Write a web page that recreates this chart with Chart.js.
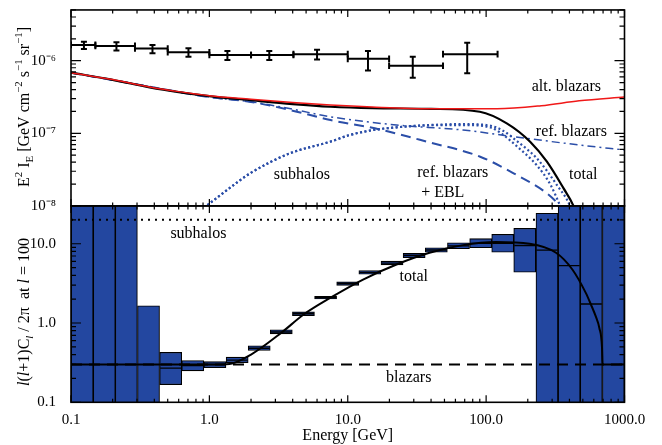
<!DOCTYPE html>
<html>
<head>
<meta charset="utf-8">
<script src="https://cdn.jsdelivr.net/npm/chart.js@4.4.1/dist/chart.umd.min.js"></script>
<style>
  html, body { margin: 0; padding: 0; background: #fff; }
  #wrap { position: relative; width: 662px; height: 445px; }
  #wrap canvas { position: absolute; left: 0; top: 0; }
</style>
</head>
<body>
<div id="wrap">
  <canvas id="bottomChart" width="662" height="445"></canvas>
  <canvas id="topChart" width="662" height="445"></canvas>
</div>
<script>
const serif = "'Liberation Serif', 'Times New Roman', serif";

// ---- top panel: measured E^2 I_E (bins in GeV)
const dataELo = [0.1, 0.15, 0.29, 0.5, 1.0, 2.0, 4.05, 10.0, 19.9, 48.8];
const dataEHi = [0.15, 0.29, 0.5, 1.0, 2.0, 4.05, 10.0, 19.9, 48.8, 121];
const dataE = [0.124, 0.213, 0.388, 0.706, 1.35, 2.71, 6.0, 14.0, 29.5, 73];
const dataFlux = [1.65e-6, 1.60e-6, 1.47e-6, 1.31e-6, 1.20e-6, 1.20e-6, 1.23e-6, 1.06e-6, 0.85e-6, 1.23e-6];
const dataFluxLo = [1.45e-6, 1.38e-6, 1.27e-6, 1.13e-6, 1.02e-6, 1.02e-6, 1.04e-6, 0.73e-6, 0.58e-6, 0.67e-6];
const dataFluxHi = [1.83e-6, 1.79e-6, 1.65e-6, 1.48e-6, 1.36e-6, 1.36e-6, 1.41e-6, 1.36e-6, 1.13e-6, 1.77e-6];

// model curves
const altE = [0.1, 0.2, 0.37, 0.6, 1, 2, 4, 7.5, 15, 40, 120, 250, 470, 1000];
const altFlux = [6.84e-7, 5.5e-7, 4.35e-7, 3.75e-7, 3.3e-7, 2.95e-7, 2.65e-7, 2.45e-7, 2.3e-7, 2.18e-7, 2.18e-7, 2.4e-7, 2.8e-7, 3.17e-7];
const totE = [0.1, 0.2, 0.37, 0.6, 1, 2, 4, 7.5, 15, 40, 90, 141, 208, 275, 363, 428, 470];
const totFlux = [6.84e-7, 5.45e-7, 4.3e-7, 3.7e-7, 3.25e-7, 2.85e-7, 2.52e-7, 2.32e-7, 2.22e-7, 2.17e-7, 1.98e-7, 1.37e-7, 7.66e-8, 4.06e-8, 1.74e-8, 1.0e-8, 6e-9];
const refE = [0.1, 0.2, 0.5, 1, 2, 4, 7.46, 22.5, 68, 158, 470, 1000];
const refFlux = [6.84e-7, 5.42e-7, 3.95e-7, 3.15e-7, 2.72e-7, 2.15e-7, 1.69e-7, 1.3e-7, 1.11e-7, 8.98e-8, 6.9e-8, 5.9e-8];
const eblE = [0.1, 0.2, 0.5, 1, 2, 4, 7.5, 15.7, 37.4, 90.6, 158, 275, 343, 400];
const eblFlux = [6.84e-7, 5.42e-7, 3.95e-7, 3.15e-7, 2.7e-7, 2.05e-7, 1.52e-7, 1.17e-7, 7.66e-8, 4.76e-8, 2.81e-8, 1.49e-8, 1.0e-8, 7e-9];
const subAE = [0.86, 1.4, 1.97, 3.83, 7.46, 10.4, 15.3, 22.6, 39.4, 68.6, 108, 133, 167, 233, 324, 404, 420];
const subAFlux = [8.6e-9, 1.76e-8, 2.81e-8, 5.31e-8, 7.66e-8, 9.5e-8, 1.11e-7, 1.21e-7, 1.30e-7, 1.34e-7, 1.27e-7, 1.08e-7, 7.8e-8, 4.5e-8, 1.95e-8, 1.0e-8, 8e-9];
const subBE = [0.86, 1.4, 1.97, 3.83, 7.46, 10.4, 15.3, 22.6, 39.4, 68.6, 108, 133, 167, 233, 292, 343, 360];
const subBFlux = [8.6e-9, 1.76e-8, 2.81e-8, 5.31e-8, 7.66e-8, 9.5e-8, 1.11e-7, 1.21e-7, 1.29e-7, 1.3e-7, 1.2e-7, 9.5e-8, 6.6e-8, 3.6e-8, 1.95e-8, 1.0e-8, 8e-9];

// ---- bottom panel: anisotropy per energy bin
const binEdges = [0.1, 0.145, 0.209, 0.302, 0.437, 0.631, 0.912, 1.32, 1.91, 2.75, 3.98, 5.75, 8.32, 12.0, 17.4, 25.1, 36.3, 52.5, 75.9, 110, 158, 229, 331, 479, 692, 1000];
const boxLo = [0.05, 0.05, 0.05, 0.05, 0.167, 0.249, 0.274, 0.317, 0.45, 0.73, 1.24, 2.01, 2.97, 4.12, 5.42, 6.65, 7.83, 8.65, 8.9, 7.83, 4.37, 0.05, 0.05, 0.05, 0.05];
const boxHi = [60, 60, 60, 1.65, 0.426, 0.336, 0.326, 0.371, 0.516, 0.82, 1.38, 2.17, 3.30, 4.59, 6.02, 7.54, 8.9, 10.3, 11.6, 13.1, 15.6, 24.2, 60, 60, 60];
const boxMid = [null, null, null, null, 0.27, 0.29, 0.30, 0.34, 0.48, 0.77, 1.31, 2.09, 3.13, 4.35, 5.7, 7.1, 8.35, 9.4, 10.1, 10.1, 9.5, 8.3, 5.3, 1.74, null];
const cTotE = [0.1, 1.0, 1.4, 2.0, 3.3, 4.8, 7.46, 12.9, 22.5, 39, 68, 118, 206, 320, 420, 525, 573, 620, 658, 688, 694, 1000];
const cTotVal = [0.3, 0.3, 0.305, 0.40, 0.75, 1.28, 2.07, 3.53, 5.47, 7.69, 9.6, 10.5, 10.0, 7.69, 4.73, 2.4, 1.70, 1.21, 0.865, 0.484, 0.30, 0.30];
const blazE = [0.1, 1000];
const blazVal = [0.3, 0.3];
const subCE = [0.1, 1000];
const subCVal = [20, 20];

// ---- axes
const xTicks = [0.1, 1, 10, 100, 1000];
const xTickLabels = ['0.1', '1.0', '10.0', '100.0', '1000.0'];
const topYTicks = [1e-8, 1e-7, 1e-6];
const topYLabels = ['10\u207B\u2078', '10\u207B\u2077', '10\u207B\u2076'];
const botYTicks = [0.1, 1, 10];
const botYLabels = ['0.1', '1.0', '10.0'];

const blue = '#2b4ea8';
const boxBlue = '#2347a0';

Chart.defaults.font.family = serif;
Chart.defaults.font.size = 15;
Chart.defaults.color = '#000';

const pts = (xs, ys) => xs.map((x, i) => ({ x, y: ys[i] }));

function logTicks(min, max) {
  const out = [];
  for (let d = Math.floor(Math.log10(min)); d <= Math.ceil(Math.log10(max)); d++) {
    for (let m = 1; m <= 9; m++) {
      const v = m * Math.pow(10, d);
      if (v >= min * 0.999 && v <= max * 1.001) out.push({ v, major: m === 1 });
    }
  }
  return out;
}

function drawRich(ctx, runs, cx, cy, size) {
  ctx.save();
  ctx.translate(cx, cy);
  ctx.rotate(-Math.PI / 2);
  const fontFor = r => (r.it ? 'italic ' : '') + ((r.sup || r.sub) ? size * 0.68 : size) + 'px ' + serif;
  const widths = runs.map(r => { ctx.font = fontFor(r); return ctx.measureText(r.t).width; });
  let x = -widths.reduce((a, b) => a + b, 0) / 2;
  ctx.textBaseline = 'alphabetic';
  ctx.textAlign = 'left';
  ctx.fillStyle = '#000';
  runs.forEach((r, i) => {
    ctx.font = fontFor(r);
    const dy = r.sup ? -size * 0.42 : r.sub ? size * 0.22 : 0;
    ctx.fillText(r.t, x, dy);
    x += widths[i];
  });
  ctx.restore();
}

function decorPlugin(notes, titleRuns, titleY) {
  return {
    id: 'decor',
    afterDatasetsDraw(chart) {
      const { ctx, chartArea: a, scales: { x, y } } = chart;
      ctx.save();
      ctx.strokeStyle = '#000';
      ctx.lineWidth = 1.6;
      ctx.strokeRect(a.left, a.top, a.right - a.left, a.bottom - a.top);
      ctx.lineWidth = 1.2;
      ctx.beginPath();
      logTicks(x.min, x.max).forEach(t => {
        const px = x.getPixelForValue(t.v);
        const len = t.major ? 7 : 3.5;
        ctx.moveTo(px, a.bottom); ctx.lineTo(px, a.bottom - len);
        ctx.moveTo(px, a.top); ctx.lineTo(px, a.top + len);
      });
      logTicks(y.min, y.max).forEach(t => {
        const py = y.getPixelForValue(t.v);
        const len = t.major ? 10 : 5;
        ctx.moveTo(a.left, py); ctx.lineTo(a.left + len, py);
        ctx.moveTo(a.right, py); ctx.lineTo(a.right - len, py);
      });
      ctx.stroke();

      ctx.font = '16px ' + serif;
      ctx.textAlign = 'center';
      ctx.textBaseline = 'middle';
      ctx.fillStyle = '#000';
      notes.forEach(n => ctx.fillText(n.text, x.getPixelForValue(n.e), y.getPixelForValue(n.v)));
      ctx.restore();
      drawRich(ctx, titleRuns, 29, titleY, 16);
    }
  };
}

// ---- top panel
const errH = [], errV = [], capH = [], capV = [];
dataE.forEach((e, i) => {
  errH.push({ x: dataELo[i], y: dataFlux[i] }, { x: dataEHi[i], y: dataFlux[i] }, { x: dataEHi[i], y: null });
  errV.push({ x: e, y: dataFluxLo[i] }, { x: e, y: dataFluxHi[i] }, { x: e, y: null });
  capH.push({ x: dataELo[i], y: dataFlux[i] }, { x: dataEHi[i], y: dataFlux[i] });
  capV.push({ x: e, y: dataFluxLo[i] }, { x: e, y: dataFluxHi[i] });
});

const topNotes = [
  { text: 'alt. blazars', e: 380, v: 4.35e-7 },
  { text: 'ref. blazars', e: 413, v: 1.04e-7 },
  { text: 'subhalos', e: 4.66, v: 2.68e-8 },
  { text: 'ref. blazars', e: 57.4, v: 2.85e-8 },
  { text: '+ EBL', e: 48.6, v: 1.51e-8 },
  { text: 'total', e: 504, v: 2.68e-8 }
];
const topTitle = [
  { t: 'E' }, { t: '2', sup: 1 }, { t: ' I' }, { t: 'E', sub: 1 }, { t: ' [GeV cm' }, { t: '\u22122', sup: 1 },
  { t: ' s' }, { t: '\u22121', sup: 1 }, { t: ' sr' }, { t: '\u22121', sup: 1 }, { t: ']' }
];

new Chart(document.getElementById('topChart'), {
  type: 'line',
  data: {
    datasets: [
      { label: 'alt. blazars', data: pts(altE, altFlux), borderColor: '#f01818', borderWidth: 1.5, cubicInterpolationMode: 'monotone', order: 0 },
      { label: 'total', data: pts(totE, totFlux), borderColor: '#000', borderWidth: 2.2, cubicInterpolationMode: 'monotone', order: 1 },
      { label: 'ref. blazars', data: pts(refE, refFlux), borderColor: blue, borderWidth: 1.5, borderDash: [8, 4, 2, 4], cubicInterpolationMode: 'monotone', order: 3 },
      { label: 'ref. blazars + EBL', data: pts(eblE, eblFlux), borderColor: blue, borderWidth: 2, borderDash: [10, 6], cubicInterpolationMode: 'monotone', order: 2 },
      { label: 'subhalos', data: pts(subAE, subAFlux), borderColor: blue, borderWidth: 2.2, borderDash: [2, 2.5], cubicInterpolationMode: 'monotone', order: 4 },
      { label: 'subhalos + EBL', data: pts(subBE, subBFlux), borderColor: blue, borderWidth: 2.2, borderDash: [2, 2.5], cubicInterpolationMode: 'monotone', order: 4 },
      { label: 'data E', data: errH, borderColor: '#000', borderWidth: 2, order: 0 },
      { label: 'data err', data: errV, borderColor: '#000', borderWidth: 2, order: 0 },
      { label: 'caps E', data: capH, showLine: false, pointStyle: 'line', pointRotation: 90, pointRadius: 3.3, pointBorderWidth: 2, pointBorderColor: '#000', order: 0 },
      { label: 'caps err', data: capV, showLine: false, pointStyle: 'line', pointRadius: 3, pointBorderWidth: 2, pointBorderColor: '#000', order: 0 }
    ]
  },
  options: {
    responsive: false,
    animation: false,
    events: [],
    layout: { padding: { left: 0, top: 9.95, right: 37.5, bottom: 239.1 } },
    elements: { point: { radius: 0 } },
    plugins: { legend: { display: false }, tooltip: { enabled: false } },
    scales: {
      x: { type: 'logarithmic', min: 0.1, max: 1000, display: false },
      y: {
        type: 'logarithmic', min: 1e-8, max: 5e-6,
        grid: { display: false }, border: { display: false },
        afterBuildTicks: s => { s.ticks = topYTicks.map(v => ({ value: v })); },
        afterFit: s => { s.width = 71; s.paddingTop = 0; s.paddingBottom = 0; },
        ticks: { padding: 7, autoSkip: false, callback: (v, i) => topYLabels[i] }
      }
    }
  },
  plugins: [decorPlugin(topNotes, topTitle, 107)]
});

// ---- bottom panel
const boxData = boxLo.map((lo, i) => ({ x: Math.sqrt(binEdges[i] * binEdges[i + 1]), y: [lo, boxHi[i]] }));
const midData = [];
boxMid.forEach((m, i) => { if (m !== null) midData.push({ x: Math.sqrt(binEdges[i] * binEdges[i + 1]), y: m }); });

const botNotes = [
  { text: 'subhalos', e: 0.833, v: 13.4 },
  { text: 'total', e: 30, v: 3.84 },
  { text: 'blazars', e: 27.6, v: 0.204 }
];
const botTitle = [
  { t: 'l', it: 1 }, { t: '(' }, { t: 'l', it: 1 }, { t: '+1)C' }, { t: 'l', it: 1, sub: 1 },
  { t: ' / 2\u03C0  at ' }, { t: 'l', it: 1 }, { t: ' = 100' }
];

new Chart(document.getElementById('bottomChart'), {
  type: 'bar',
  data: {
    datasets: [
      { type: 'bar', label: 'data', data: boxData, backgroundColor: boxBlue, borderColor: '#000', borderWidth: 1.1, borderSkipped: false, barPercentage: 1, categoryPercentage: 1, clip: 0, order: 10 },
      { type: 'line', label: 'data centre', data: midData, showLine: false, pointStyle: 'line', pointRadius: 10.5, pointBorderWidth: 1.4, pointBorderColor: '#000', order: 5 },
      { type: 'line', label: 'blazars', data: pts(blazE, blazVal), borderColor: '#000', borderWidth: 2, borderDash: [11, 7], pointRadius: 0, order: 2 },
      { type: 'line', label: 'subhalos', data: pts(subCE, subCVal), borderColor: '#000', borderWidth: 2, borderDash: [2, 5], pointRadius: 0, order: 2 },
      { type: 'line', label: 'total', data: pts(cTotE, cTotVal), borderColor: '#000', borderWidth: 2, cubicInterpolationMode: 'monotone', pointRadius: 0, order: 0 }
    ]
  },
  options: {
    responsive: false,
    animation: false,
    events: [],
    layout: { padding: { left: 0, top: 205.9, right: 37.5, bottom: 0 } },
    plugins: { legend: { display: false }, tooltip: { enabled: false } },
    scales: {
      x: {
        type: 'logarithmic', min: 0.1, max: 1000, offset: false,
        grid: { display: false, offset: false }, border: { display: false },
        afterBuildTicks: s => { s.ticks = xTicks.map(v => ({ value: v })); },
        afterFit: s => { s.height = 42.7; s.paddingLeft = 0; s.paddingRight = 0; },
        ticks: { padding: 1, maxRotation: 0, autoSkip: false, callback: (v, i) => xTickLabels[i] },
        title: { display: true, text: 'Energy [GeV]', padding: { top: 0, bottom: 0 }, font: { size: 16 } }
      },
      y: {
        type: 'logarithmic', min: 0.1, max: 30,
        grid: { display: false }, border: { display: false },
        afterBuildTicks: s => { s.ticks = botYTicks.map(v => ({ value: v })); },
        afterFit: s => { s.width = 71; s.paddingTop = 0; s.paddingBottom = 0; },
        ticks: { padding: 7, autoSkip: false, callback: (v, i) => botYLabels[i] }
      }
    }
  },
  plugins: [decorPlugin(botNotes, botTitle, 312)]
});
</script>
</body>
</html>
